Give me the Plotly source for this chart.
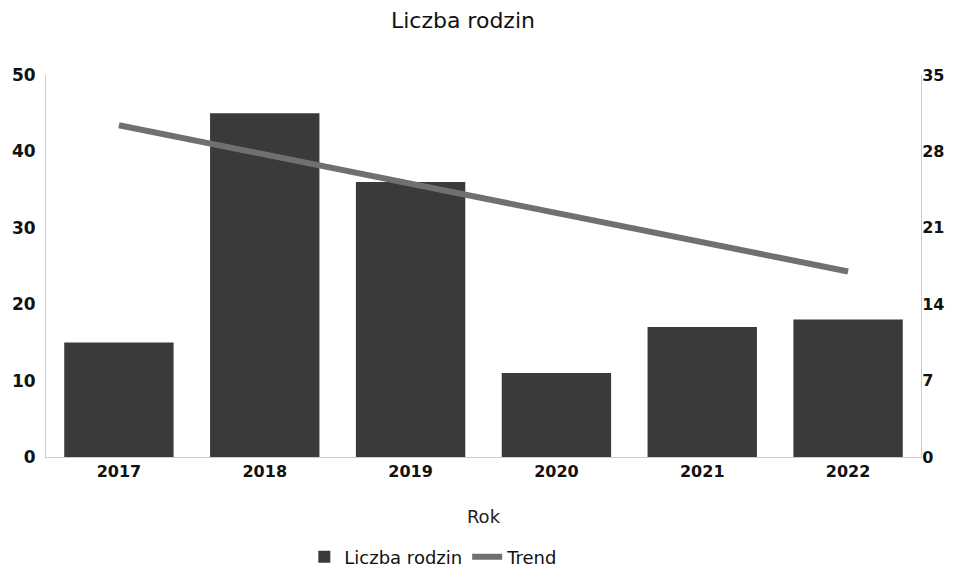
import plotly.graph_objects as go

years = ["2017", "2018", "2019", "2020", "2021", "2022"]
families = [15, 45, 36, 11, 17, 18]
trend = [30.4, 27.7, 25.0, 22.3, 19.6, 17.0]
left_ticks = [0, 10, 20, 30, 40, 50]
right_ticks = [0, 7, 14, 21, 28, 35]

FONT = "DejaVu Sans"

fig = go.Figure()
fig.add_trace(go.Bar(
    x=years, y=families, name="Liczba rodzin",
    marker=dict(color="#3a3a3a", line=dict(width=0)),
    yaxis="y",
))
fig.add_trace(go.Scatter(
    x=years, y=trend, name="Trend", mode="lines",
    line=dict(color="#707070", width=6),
    yaxis="y2",
))

fig.update_layout(
    width=940, height=561,
    margin=dict(l=38, r=27, t=67, b=112, autoexpand=False),
    paper_bgcolor="white", plot_bgcolor="white",
    font=dict(family=FONT, color="#111111", size=16),
    title=dict(text="Liczba rodzin", x=0.484, xanchor="center", xref="container",
               y=0.978, yanchor="middle", yref="container",
               font=dict(family=FONT, size=22, color="#111111")),
    bargap=0.25,
    showlegend=True,
    legend=dict(orientation="h", x=0.453, xref="container", xanchor="center",
                y=-0.262, yanchor="middle",
                font=dict(family=FONT, size=18, color="#111111"),
                itemwidth=30, tracegroupgap=10),
    xaxis=dict(
        title=dict(text="Rok", font=dict(family=FONT, size=18, color="#222222"), standoff=30),
        tickfont=dict(family=FONT, size=16, color="#111111", weight="bold"),
        showline=True, linecolor="#cccccc", linewidth=1,
        showgrid=False, ticks="", automargin=False,
    ),
    yaxis=dict(
        range=[0, 50], tickvals=left_ticks, ticktext=[str(v) for v in left_ticks],
        tickfont=dict(family=FONT, size=17, color="#111111", weight="bold"),
        showline=True, linecolor="#cccccc", linewidth=1,
        showgrid=False, zeroline=False, ticks="", ticklabelstandoff=6, automargin=False,
    ),
    yaxis2=dict(
        range=[0, 35], tickvals=right_ticks, ticktext=[str(v) for v in right_ticks],
        overlaying="y", side="right",
        tickfont=dict(family=FONT, size=16, color="#111111", weight="bold"),
        showline=True, linecolor="#cccccc", linewidth=1,
        showgrid=False, zeroline=False, ticks="", ticklabelstandoff=-3, automargin=False,
    ),
)

fig.write_html("out.html")
